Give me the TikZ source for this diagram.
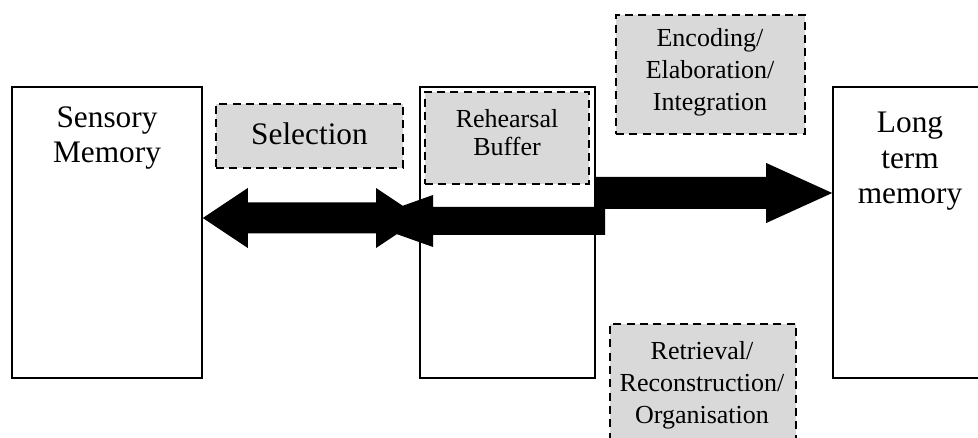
\documentclass[tikz,border=0pt]{standalone}
\usepackage{fontspec}
\setmainfont{Liberation Serif}
\usetikzlibrary{calc,fit}
\definecolor{boxgray}{HTML}{D9D9D9}
\begin{document}
\begin{tikzpicture}[x=0.75pt,y=-0.75pt,
  solidbox/.style={draw=black,fill=white,line width=1.2pt,inner sep=0pt},
  dashbox/.style={draw=black,fill=boxgray,line width=1.9pt,dash pattern=on 6pt off 4pt,inner sep=0pt},
  bigtext/.style={align=center,inner sep=0pt,anchor=north,font=\fontsize{23.5}{26.5}\selectfont},
  smalltext/.style={align=center,inner sep=0pt,anchor=north,font=\fontsize{19.5}{24}\selectfont},
  blockarrow/.style={fill=black}]
\clip (0,0) rectangle (978,438);
\useasboundingbox (0,0) rectangle (978,438);

% boxes
\node[solidbox,fit={(12,87) (202,378)}] (sm) {};
\node[dashbox,fit={(216,104) (403,168)}] (sel) {};
\node[dashbox,fit={(616,15) (805,134)}] (enc) {};
\node[solidbox,fit={(833,87) (1010,378)}] (ltm) {};
\node[dashbox,fit={(610,324) (796,470)}] (ret) {};

% arrow to long-term memory (behind short-term box)
\coordinate (a3s) at (560,193);
\coordinate (a3t) at (ltm.west |- 0,193);
\fill[blockarrow] ($(a3s)+(0,-16)$) -- ($(a3t)+(-66,-16)$) -- ++(0,-14) -- (a3t)
  -- ++(-66,30) -- ++(0,-14) -- ($(a3s)+(0,16)$) -- cycle;

\node[solidbox,fit={(420,87) (595,378)}] (stm) {};
\node[dashbox,fit={(425,92) (589,184)}] (reh) {};

% double arrow sensory <-> short-term
\coordinate (a1l) at (sm.east |- 0,218);
\coordinate (a1r) at (421,218);
\fill[blockarrow] (a1l) -- ++(45,-30) -- ++(0,14.5) -- ($(a1r)+(-45,-15.5)$) -- ++(0,-14.5)
  -- (a1r) -- ++(-45,30) -- ++(0,-14.5) -- ($(a1l)+(45,15.5)$) -- ++(0,14.5) -- cycle;

% retrieval arrow (leftwards)
\coordinate (a2t) at (360,221);
\coordinate (a2e) at (605,221);
\fill[blockarrow] (a2t) -- ++(73,-26) -- ++(0,12) -- ($(a2e)+(0,-14)$) -- ++(0,28)
  -- ($(a2t)+(73,14)$) -- ++(0,12) -- cycle;

% texts
\node[bigtext] (smt) at (107,106) {Sensory\\Memory};
\node[bigtext,anchor=base] (selt) at (309.5,145) {Selection};
\node[bigtext] (ltmt) at (910,112) {Long\\term\\memory};
\node[smalltext,font=\fontsize{19.5}{21.5}\selectfont] (reht) at (507,109) {Rehearsal\\Buffer};
\node[smalltext] (enct) at (710,28) {Encoding/\\Elaboration/\\Integration};
\node[smalltext] (rett) at (702,341) {Retrieval/\\Reconstruction/\\Organisation};
\end{tikzpicture}
\end{document}
